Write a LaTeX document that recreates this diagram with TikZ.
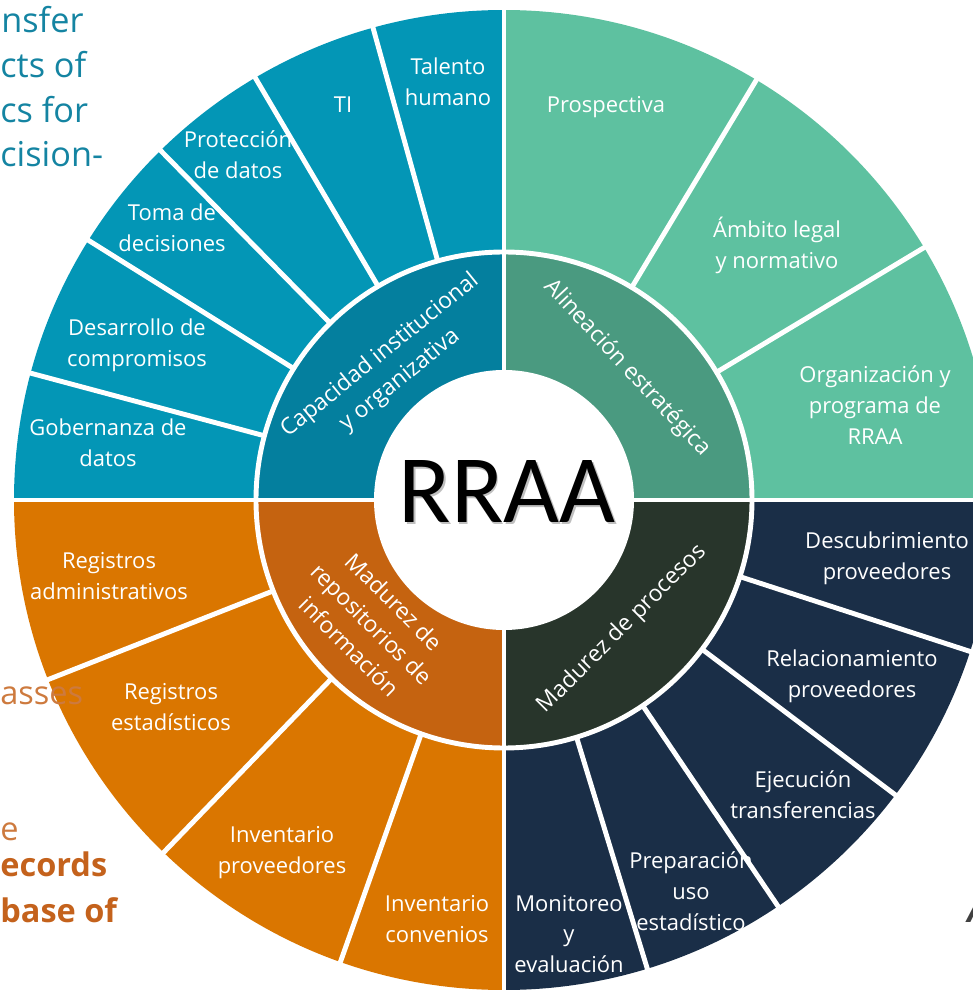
\documentclass[tikz,border=0pt]{standalone}
\usepackage{fontspec}
\setmainfont{Open Sans}
\newfontfamily\rraafont{Carlito}

\definecolor{tealout}{RGB}{3,150,182}
\definecolor{tealmid}{RGB}{4,127,158}
\definecolor{greenout}{RGB}{94,193,160}
\definecolor{greenmid}{RGB}{74,154,128}
\definecolor{orangeout}{RGB}{218,118,0}
\definecolor{orangemid}{RGB}{197,99,16}
\definecolor{navyout}{RGB}{26,46,71}
\definecolor{navymid}{RGB}{40,53,43}
\definecolor{tealtxt}{RGB}{20,132,162}
\definecolor{orangetxt}{RGB}{196,98,28}

\begin{document}
\begin{tikzpicture}[x=0.02cm, y=0.02cm,
    lbl/.style={text=white, align=center, inner sep=0pt, font=\fontsize{12.5}{17.6}\selectfont},
    midlbl/.style={lbl, font=\fontsize{13}{18}\selectfont},
    back/.style={anchor=base west, inner sep=0pt},
    gap/.style={white, line width=2.8pt}]
  \useasboundingbox (0,0) rectangle (973,992);

  % text lying behind the chart
  \node[back, text=tealtxt, font=\fontsize{19.5}{24}\selectfont](tA) at (1,959){nsfer};
  \node[back, text=tealtxt, font=\fontsize{19.5}{24}\selectfont](tB) at (0,914){cts of};
  \node[back, text=tealtxt, font=\fontsize{19.5}{24}\selectfont](tC) at (0,869){cs for};
  \node[back, text=tealtxt, font=\fontsize{19.5}{24}\selectfont](tD) at (0,825){cision-};

  \begin{scope}[shift={(504,492)}]
    % quadrants, outer and middle ring
    \foreach \a/\c/\d in {0/greenout/greenmid, 90/tealout/tealmid, 180/orangeout/orangemid, 270/navyout/navymid} {
      \fill[\c] (0,0) -- (\a:490) arc[start angle=\a, delta angle=90, radius=490] -- cycle;
      \fill[\d] (0,0) -- (\a:248) arc[start angle=\a, delta angle=90, radius=248] -- cycle;
    }

    \draw[gap] (0,0) circle[radius=248];
    \foreach \a in {105.5,120.5,134.5,148,165,31,59,201.5,226,250.5,287,304,323,342} {
      \draw[gap] (\a:248) -- (\a:500);
    }
    \draw[gap] (-500,0) -- (500,0);
    \draw[gap] (0,-500) -- (0,500);
    \fill[white] (0,0) circle[radius=130];

    \node[text=black!25, font=\rraafont\fontsize{55}{60}\selectfont, inner sep=0pt](rraaS) at (4.5,6.5){RRAA};
    \node[font=\rraafont\fontsize{55}{60}\selectfont, inner sep=0pt](rraa) at (3,8){RRAA};

    \node[midlbl, rotate=39](cap) at (-114,132){Capacidad institucional\\y organizativa};
    \node[midlbl, rotate=-47](ali) at (123,132){Alineación estratégica};
    \node[midlbl, rotate=-45](rep) at (-132,-124){Madurez de\\repositorios de\\información};
    \node[midlbl, rotate=45](pro) at (118,-129){Madurez de procesos};

    \node[lbl](th) at (-56,418){Talento\\humano};
    \node[lbl](ti) at (-161,395){TI};
    \node[lbl](pd) at (-266,345){Protección\\de datos};
    \node[lbl](td) at (-332,272){Toma de\\decisiones};
    \node[lbl](dc) at (-367,155){Desarrollo de\\compromisos};
    \node[lbl](gd) at (-396,57){Gobernanza de\\datos};

    \node[lbl](ps) at (102,393){Prospectiva};
    \node[lbl](al) at (273,255){Ámbito legal\\y normativo};
    \node[lbl](op) at (371,95){Organización y\\programa de\\RRAA};

    \node[lbl](ra) at (-395,-76){Registros\\administrativos};
    \node[lbl](re) at (-333,-207){Registros\\estadísticos};
    \node[lbl](ip) at (-222,-353){Inventario\\proveedores};
    \node[lbl](ic) at (-67,-419){Inventario\\convenios};

    \node[lbl](dp) at (383,-58){Descubrimiento\\proveedores};
    \node[lbl](rp) at (348,-176){Relacionamiento\\proveedores};
    \node[lbl](et) at (299,-295){Ejecución\\transferencias};
    \node[lbl](pu) at (187,-391){Preparación\\uso\\estadístico};
    \node[lbl](me) at (65,-434){Monitoreo\\y\\evaluación};
  \end{scope}

  % text lying over the chart
  \node[back, text=orangetxt!85, font=\fontsize{18.5}{22}\selectfont](oA) at (0,287){asses};
  \node[back, text=orangetxt!85, font=\fontsize{18.5}{22}\selectfont](oB) at (0,152){e};
  \node[back, text=orangetxt, font=\bfseries\fontsize{18.5}{22}\selectfont](oC) at (0,115){ecords};
  \node[back, text=orangetxt, font=\bfseries\fontsize{18.5}{22}\selectfont](oD) at (0,70){base of};
  \node[back, text=black!75, font=\bfseries\itshape\fontsize{18.5}{22}\selectfont](oE) at (967,70){A};
\end{tikzpicture}
\end{document}
